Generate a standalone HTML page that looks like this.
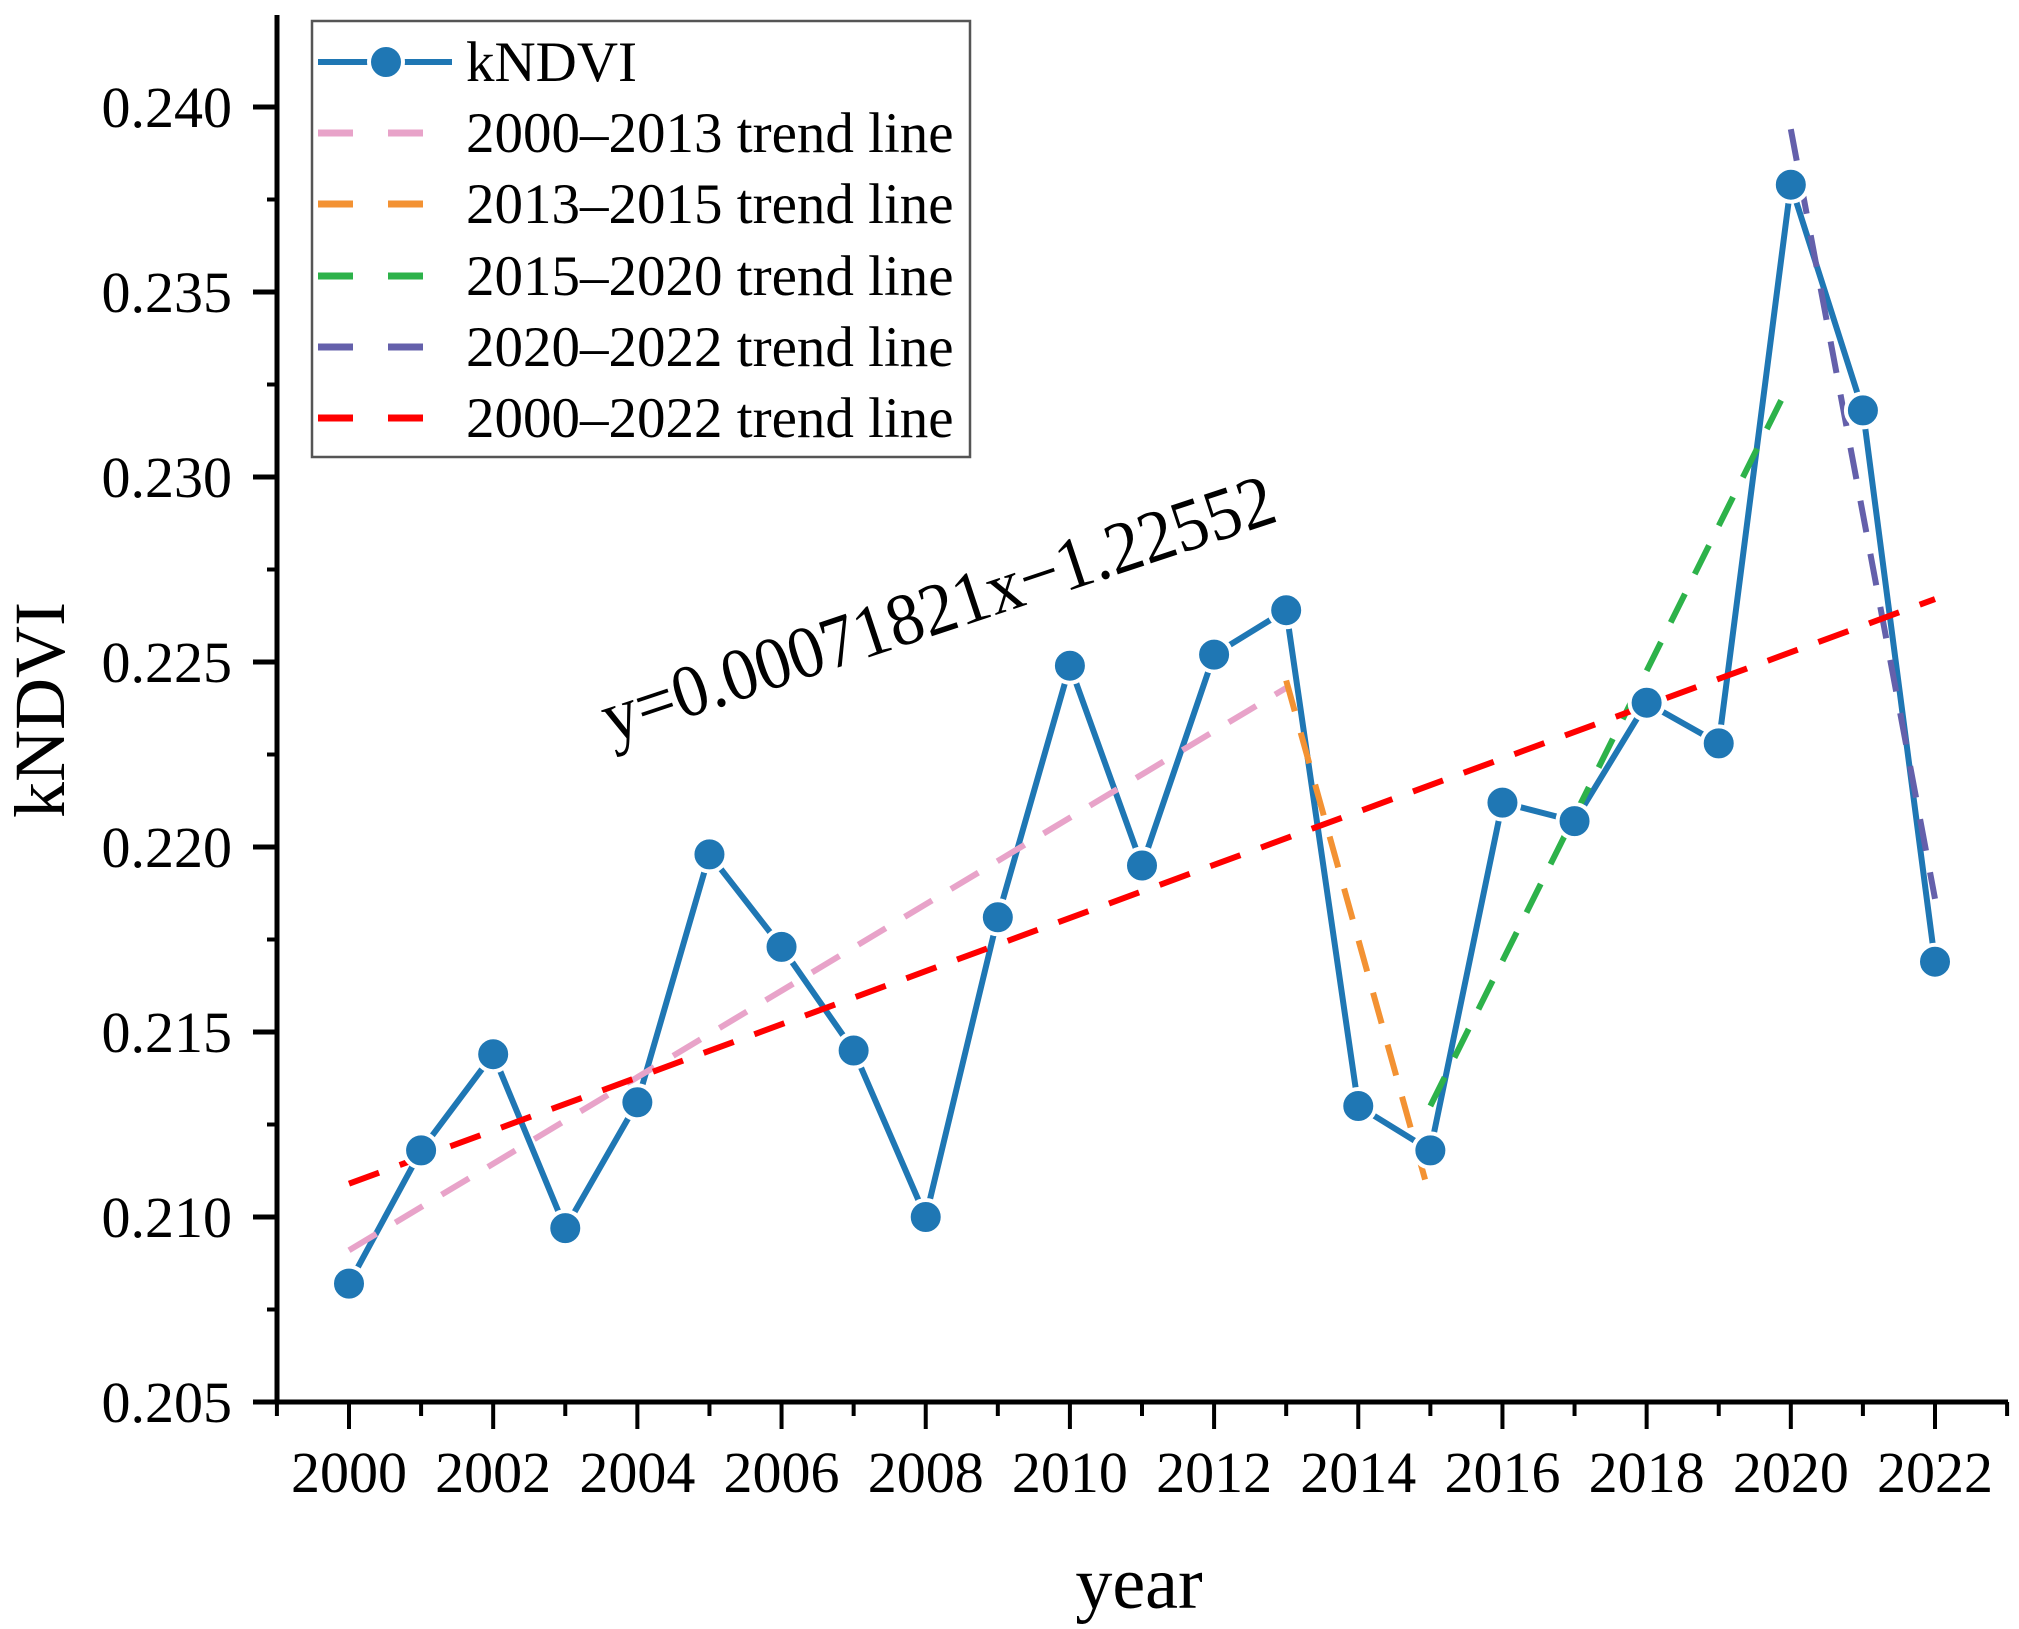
<!DOCTYPE html>
<html><head><meta charset="utf-8"><style>
html,body{margin:0;padding:0;background:#fff;}
svg{display:block;font-family:"Liberation Serif",serif;}
</style></head><body>
<svg id="chart" width="2019" height="1629" viewBox="0 0 2019 1629" xmlns="http://www.w3.org/2000/svg">
<g id="axes"></g>
<g id="series"></g>
<text transform="translate(64,710) rotate(-90)" text-anchor="middle" font-size="72" fill="#000">kNDVI</text>
<text x="1139" y="1608" text-anchor="middle" font-size="74" fill="#000">year</text>
<text transform="translate(611,743) rotate(-18.4)" font-size="74" textLength="705" lengthAdjust="spacingAndGlyphs" fill="#000">y=0.00071821x−1.22552</text>
<g>
<rect x="312" y="21" width="658" height="436" fill="#fff" stroke="#555" stroke-width="2.5"/>
<g>
<line x1="318" y1="62" x2="452" y2="62" stroke="#1f77b4" stroke-width="6"/>
<circle cx="386" cy="62" r="17" fill="#1f77b4" stroke="#fff" stroke-width="4"/>
<text x="466" y="81" font-size="57">kNDVI</text></g>
<g>
<line x1="318" y1="133" x2="424" y2="133" stroke="#e8a3c9" stroke-width="7" stroke-dasharray="35,35"/>
<text x="466" y="152" font-size="57">2000–2013 trend line</text></g>
<g>
<line x1="318" y1="204" x2="424" y2="204" stroke="#f39233" stroke-width="7" stroke-dasharray="35,35"/>
<text x="466" y="223" font-size="57">2013–2015 trend line</text></g>
<g>
<line x1="318" y1="276" x2="424" y2="276" stroke="#2db24a" stroke-width="7" stroke-dasharray="35,35"/>
<text x="466" y="295" font-size="57">2015–2020 trend line</text></g>
<g>
<line x1="318" y1="347" x2="424" y2="347" stroke="#6460ab" stroke-width="7" stroke-dasharray="35,35"/>
<text x="466" y="366" font-size="57">2020–2022 trend line</text></g>
<g>
<line x1="318" y1="418" x2="424" y2="418" stroke="#ff0000" stroke-width="7" stroke-dasharray="35,35"/>
<text x="466" y="437" font-size="57">2000–2022 trend line</text></g>
</g>
</svg>
<script>
const years=[2000,2001,2002,2003,2004,2005,2006,2007,2008,2009,2010,2011,2012,2013,2014,2015,2016,2017,2018,2019,2020,2021,2022];
const kndvi=[0.2082,0.2118,0.2144,0.2097,0.2131,0.2198,0.2173,0.2145,0.2100,0.2181,0.2249,0.2195,0.2252,0.2264,0.2130,0.2118,0.2212,0.2207,0.2239,0.2228,0.2379,0.2318,0.2169];
const yTicks=[0.205,0.210,0.215,0.220,0.225,0.230,0.235,0.240];
const yTickLabels=["0.205","0.210","0.215","0.220","0.225","0.230","0.235","0.240"];
const xTickYears=[2000,2002,2004,2006,2008,2010,2012,2014,2016,2018,2020,2022];
const trendStartYears=[2000,2013,2015,2020,2000];
const trendEndYears=[2013,2015,2020,2022,2022];
const trendStartVals=[0.2091,0.2245,0.2130,0.2394,0.21090];
const trendEndVals=[0.2243,0.2105,0.2326,0.2186,0.22670];
const trendNames=["trend-2000-2013","trend-2013-2015","trend-2015-2020","trend-2020-2022","trend-2000-2022"];
const trendColors=["#e8a3c9","#f39233","#2db24a","#6460ab","#ff0000"];

const NS="http://www.w3.org/2000/svg";
const X=y=>349+(y-2000)*(1935-349)/22;
const Y=v=>1402-(v-0.205)/0.005*185;
function mk(tag,attrs,parent){const e=document.createElementNS(NS,tag);for(const k in attrs)e.setAttribute(k,attrs[k]);parent.appendChild(e);return e;}
const axes=document.getElementById('axes'), ser=document.getElementById('series');

let a=mk('line',{x1:277,y1:15,x2:277,y2:1404,stroke:'#000','stroke-width':5},axes);


a=mk('line',{x1:275,y1:1402,x2:2008,y2:1402,stroke:'#000','stroke-width':5},axes);


yTicks.forEach((v,i)=>{
  const t=mk('line',{x1:253,y1:Y(v),x2:277,y2:Y(v),stroke:'#000','stroke-width':5},axes);
  
  
  if(i<yTicks.length-1){const m=mk('line',{x1:267,y1:Y(v+0.0025),x2:277,y2:Y(v+0.0025),stroke:'#000','stroke-width':4},axes);
  
  }
  const l=mk('text',{x:232,y:Y(v)+20,'text-anchor':'end','font-size':58},axes);
  l.textContent=yTickLabels[i];
  
  
});
for(let yr=1999;yr<=2023;yr++){
  const major=xTickYears.includes(yr);
  const t=mk('line',{x1:X(yr),y1:1402,x2:X(yr),y2:major?1429:1416,stroke:'#000','stroke-width':4},axes);
  
  
}
xTickYears.forEach(yr=>{
  const l=mk('text',{x:X(yr),y:1492,'text-anchor':'middle','font-size':58},axes);
  l.textContent=String(yr);
  
  
});
const pts=years.map((yr,i)=>X(yr)+','+Y(kndvi[i])).join(' ');
const pl=mk('polyline',{points:pts,fill:'none',stroke:'#1f77b4','stroke-width':6,'stroke-linejoin':'round'},ser);


trendNames.forEach((n,i)=>{
  const l=mk('line',{x1:X(trendStartYears[i]),y1:Y(trendStartVals[i]),x2:X(trendEndYears[i]),y2:Y(trendEndVals[i]),stroke:trendColors[i],'stroke-width':6,'stroke-dasharray':'32,22'},ser);
  
  
});
years.forEach((yr,i)=>{
  const c=mk('circle',{cx:X(yr),cy:Y(kndvi[i]),r:17,fill:'#1f77b4',stroke:'#fff','stroke-width':4},ser);
  
  
});
</script>
</body></html>
